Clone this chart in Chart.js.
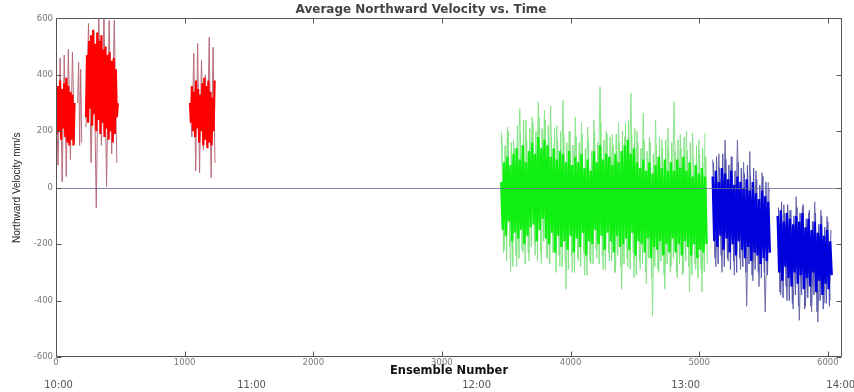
<!DOCTYPE html>
<html><head><meta charset="utf-8">
<script src="https://cdn.jsdelivr.net/npm/chart.js@4.4.0/dist/chart.umd.min.js"></script>
<style>html,body{margin:0;padding:0;background:#fff;}#wrap{width:854px;height:392px;position:relative;}</style>
</head><body><div id="wrap"><canvas id="c"></canvas></div>
<script>
// ---- text ----
const chartTitle = 'Average Northward Velocity vs. Time';
const xAxisTitle = 'Ensemble Number';
const yAxisTitle = 'Northward Velocity mm/s';
// ---- axes ----
const xMin = 0, xMax = 6110;
const yMin = -600, yMax = 600;
const xTickValues = [0, 1000, 2000, 3000, 4000, 5000, 6000];
const yTickValues = [-600, -400, -200, 0, 200, 400, 600];
const timeLabels = ['10:00', '11:00', '12:00', '13:00', '14:00'];
const timeLabelEnsembles = [20, 1520, 3270, 4895, 6100];

// ---- series (start ensemble, sample step, values in mm/s) ----
const redAStart = 0, redAStep = 8;
const redACore = [340,190,360,200,380,170,350,210,370,180,390,160,360,150,340,170,330,150,300];
const redAEnvStep = 16;
const redAEnv = [350,80,460,20,470,40,490,100,480,160];
const redBarStart = 168, redBarStep = 8;
const redBar = [300,445,150,420,160];
const redBStart = 233, redBStep = 8;
const redBCore = [250,470,230,520,280,540,220,560,260,510,200,550,240,520,190,540,230,490,180,500,210,470,170,480,200,450,160,460,190,420,250,300];
const redBEnvStep = 20;
const redBEnv = [215,582,88,551,-71,600,150,620,4,593,120,593,88];
const redCStart = 1041, redCStep = 8;
const redCCore = [300,230,360,200,340,180,380,210,350,160,330,200,370,150,390,170,360,140,380,160,340,150,320,200,380];
const redCEnvStep = 15;
const redCEnv = [300,180,476,60,511,53,452,134,400,150,533,35,498,88];

const greenStart = 3461, greenStep = 12;
const greenCore = [
  20,-150,90,-170,110,-120,80,-190,120,-160,
  140,-180,100,-150,150,-200,90,-170,130,-140,
  160,-130,120,-190,180,-150,140,-110,170,-180,
  150,-200,110,-160,140,-230,100,-170,130,-210,
  120,-190,90,-220,130,-170,80,-230,110,-180,
  90,-210,120,-160,70,-240,100,-190,60,-200,
  130,-150,90,-200,150,-170,100,-220,120,-160,
  110,-190,80,-230,120,-170,90,-210,130,-200,
  150,-180,170,-220,120,-160,140,-240,90,-190,
  70,-200,100,-230,60,-180,90,-250,50,-210,
  80,-220,110,-190,70,-240,100,-200,60,-230,
  90,-180,60,-230,100,-200,70,-240,110,-190,
  60,-210,90,-240,40,-200,80,-250,50,-220,
  70,-230,40,-200];
const greenMidStart = 3467;
const greenMid = [
  180,-230,150,-260,200,-210,160,-280,140,-240,
  220,-250,190,-220,240,-270,170,-230,210,-210,
  230,-200,200,-260,250,-230,210,-190,240,-250,
  220,-270,180,-230,210,-300,170,-240,200,-280,
  190,-260,160,-290,200,-240,150,-300,180,-250,
  160,-280,190,-230,140,-310,170,-260,130,-270,
  200,-220,160,-270,230,-240,170,-290,190,-230,
  180,-260,150,-300,190,-240,160,-280,200,-270,
  230,-250,240,-290,190,-230,210,-310,160,-260,
  140,-270,170,-300,130,-250,160,-320,120,-280,
  150,-290,180,-260,140,-310,170,-270,130,-300,
  160,-250,130,-300,170,-270,140,-310,180,-260,
  130,-280,160,-310,110,-270,150,-320,120,-290,
  140,-300,110,-270];
const greenEnvStep = 24;
const greenEnv = [
  200,-220,215,-296,170,-280,280,-230,240,-260,
  250,-240,304,-270,275,-250,290,-230,220,-280,
  310,-360,200,-300,250,-260,230,-310,215,-270,
  240,-250,357,-290,200,-260,190,-300,230,-360,
  180,-280,335,-320,200,-290,264,-340,180,-455,
  240,-300,170,-360,210,-280,304,-320,190,-300,
  200,-370,194,-290,170,-370,194];

const blueAStart = 5105, blueAStep = 12;
const blueACore = [40,-190,60,-210,20,-170,70,-220,50,-180,30,-230,60,-200,10,-240,40,-190,20,-220,0,-250,30,-210,-10,-260,20,-230,-20,-240,-40,-270,-10,-250,-30,-260,-50,-230];
const blueAMidStart = 5111;
const blueAMid = [90,-250,110,-270,70,-240,120,-280,100,-250,80,-290,110,-260,60,-300,90,-250,70,-280,50,-300,80,-270,40,-310,70,-290,30,-300,10,-320,40,-300,20,-310,0];
const blueAEnvStep = 24;
const blueAEnv = [100,-280,120,-300,169,-260,110,-310,169,-290,90,-420,128,-330,60,-350,53,-440,20];
const blueBStart = 5610, blueBStep = 12;
const blueBCore = [-100,-300,-80,-330,-120,-280,-90,-320,-110,-350,-130,-300,-100,-340,-120,-310,-90,-360,-140,-320,-110,-350,-150,-300,-120,-370,-160,-330,-130,-380,-170,-340,-150,-360,-190,-310];
const blueBMidStart = 5616;
const blueBMid = [-70,-370,-50,-390,-90,-350,-60,-400,-80,-410,-100,-380,-70,-420,-90,-380,-60,-430,-110,-390,-80,-420,-120,-380,-90,-440,-130,-400,-100,-430,-140,-410,-120,-420,-150];
const blueBEnvStep = 24;
const blueBEnv = [-120,-380,-60,-400,-80,-430,-32,-470,-70,-420,-90,-440,-50,-476,-80,-410,-102,-400];

// ---- colours ----
const redCoreColor = '#ff0000', redEnvColor = '#b86c7a';
const greenCoreColor = '#10f010', greenMidColor = '#7fe67f', greenEnvColor = '#8ee48e';
const blueCoreColor = '#0000dc', blueMidColor = '#5555b0', blueEnvColor = '#6e6eaa';

function pts(start, step, vals) { return vals.map((v, i) => ({ x: start + i * step, y: v })); }
function ds(data, color, order, width) {
  return { data, borderColor: color, borderWidth: width, pointRadius: 0, tension: 0,
    borderJoinStyle: 'bevel', fill: false, order, spanGaps: false };
}

const datasets = [
  ds(pts(redAStart, redAStep, redACore), redCoreColor, 0, 2.2),
  ds(pts(redAStart, redAEnvStep, redAEnv), redEnvColor, 2, 1),
  ds(pts(redBarStart, redBarStep, redBar), redEnvColor, 2, 1),
  ds(pts(redBStart, redBStep, redBCore), redCoreColor, 0, 2.2),
  ds(pts(redBStart, redBEnvStep, redBEnv), redEnvColor, 2, 1),
  ds(pts(redCStart, redCStep, redCCore), redCoreColor, 0, 2.2),
  ds(pts(redCStart, redCEnvStep, redCEnv), redEnvColor, 2, 1),
  ds(pts(greenStart, greenStep, greenCore), greenCoreColor, 0, 2.4),
  ds(pts(greenMidStart, greenStep, greenMid), greenMidColor, 1, 1),
  ds(pts(greenStart, greenEnvStep, greenEnv), greenEnvColor, 2, 1),
  ds(pts(blueAStart, blueAStep, blueACore), blueCoreColor, 0, 2.4),
  ds(pts(blueAMidStart, blueAStep, blueAMid), blueMidColor, 1, 1),
  ds(pts(blueAStart, blueAEnvStep, blueAEnv), blueEnvColor, 2, 1),
  ds(pts(blueBStart, blueBStep, blueBCore), blueCoreColor, 0, 2.4),
  ds(pts(blueBMidStart, blueBStep, blueBMid), blueMidColor, 1, 1),
  ds(pts(blueBStart, blueBEnvStep, blueBEnv), blueEnvColor, 2, 1)
];

const framePlugin = {
  id: 'frame',
  afterDatasetsDraw(chart) {
    const { ctx, chartArea: { left, right, top, bottom }, scales: { x, y } } = chart;
    ctx.save();
    const y0 = Math.round(y.getPixelForValue(0)) + 0.5;
    ctx.strokeStyle = 'rgba(105,105,150,0.8)';
    ctx.lineWidth = 1;
    ctx.beginPath(); ctx.moveTo(left, y0); ctx.lineTo(right, y0); ctx.stroke();
    ctx.strokeStyle = '#555';
    const L = Math.round(left) + 0.5, R = Math.round(right) - 0.5, T = Math.round(top) + 0.5, B = Math.round(bottom) - 0.5;
    ctx.beginPath();
    ctx.moveTo(L, T); ctx.lineTo(R, T); ctx.lineTo(R, B); ctx.lineTo(L, B); ctx.closePath();
    xTickValues.forEach(v => {
      const px = Math.round(x.getPixelForValue(v)) + 0.5;
      ctx.moveTo(px, B); ctx.lineTo(px, B - 5);
      ctx.moveTo(px, T); ctx.lineTo(px, T + 5);
    });
    yTickValues.forEach(v => {
      const py = Math.round(y.getPixelForValue(v)) + 0.5;
      ctx.moveTo(L, py); ctx.lineTo(L + 5, py);
      ctx.moveTo(R, py); ctx.lineTo(R - 5, py);
    });
    ctx.stroke();
    ctx.restore();
  }
};

new Chart(document.getElementById('c'), {
  type: 'line',
  data: { datasets },
  plugins: [framePlugin],
  options: {
    responsive: true, maintainAspectRatio: false, animation: false,
    layout: { padding: { left: 0, right: 12, top: 0, bottom: 0 } },
    plugins: {
      legend: { display: false }, tooltip: { enabled: false },
      title: { display: true, text: chartTitle, color: '#444',
        font: { family: 'DejaVu Sans', size: 12, weight: 'bold' }, padding: { top: 3, bottom: 1 } }
    },
    scales: {
      x: {
        type: 'linear', position: 'bottom', min: xMin, max: xMax,
        grid: { display: false, drawTicks: false }, border: { display: false },
        afterBuildTicks: s => { s.ticks = xTickValues.map(v => ({ value: v })); },
        afterFit: s => { s.height = 22; s.paddingLeft = 0; s.paddingRight = 0; },
        ticks: { autoSkip: false, maxRotation: 0, padding: 1, color: '#777',
          font: { family: 'DejaVu Sans', size: 8.5 }, callback: v => String(v) },
        title: { display: true, text: xAxisTitle, color: '#111',
          font: { family: 'DejaVu Sans', size: 11.5, weight: 'bold' }, padding: { top: 0, bottom: 1 } }
      },
      x2: {
        type: 'linear', position: 'bottom', min: xMin, max: xMax,
        grid: { display: false, drawTicks: false }, border: { display: false },
        afterBuildTicks: s => { s.ticks = timeLabelEnsembles.map(v => ({ value: v })); },
        afterFit: s => { s.height = 13; s.paddingLeft = 0; s.paddingRight = 0; },
        ticks: { autoSkip: false, maxRotation: 0, padding: 0, color: '#555',
          font: { family: 'DejaVu Sans', size: 10 },
          callback: (v, i) => timeLabels[i] }
      },
      y: {
        type: 'linear', position: 'left', min: yMin, max: yMax,
        grid: { display: false, drawTicks: false }, border: { display: false },
        afterBuildTicks: s => { s.ticks = yTickValues.map(v => ({ value: v })); },
        afterFit: s => { s.width = 56; },
        ticks: { padding: 3, color: '#777', font: { family: 'DejaVu Sans', size: 8.5 },
          callback: v => String(v) },
        title: { display: true, text: yAxisTitle, color: '#222',
          font: { family: 'Liberation Sans', size: 10 }, padding: { top: 11, bottom: 0 } }
      }
    }
  }
});
</script></body></html>
